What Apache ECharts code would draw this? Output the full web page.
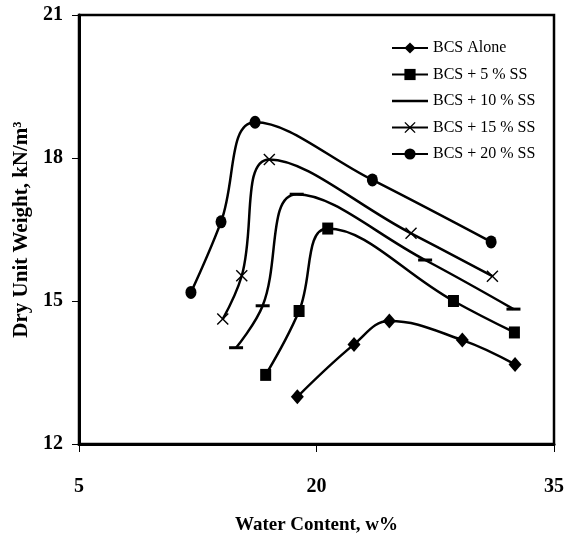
<!DOCTYPE html>
<html>
<head>
<meta charset="utf-8">
<script src="https://cdn.jsdelivr.net/npm/echarts@6/dist/echarts.min.js"></script>
<style>
  html, body { margin: 0; padding: 0; background: #fff; }
  #chart { width: 565px; height: 538px; }
</style>
</head>
<body>
<div id="chart"></div>
<script>
// valores (contenido de agua %, peso unitario seco kN/m3)
const nombres = ['BCS Alone', 'BCS + 5 % SS', 'BCS + 10 % SS', 'BCS + 15 % SS', 'BCS + 20 % SS']

const humedad0 = [18.79, 22.37, 24.6, 29.21, 32.54]
const peso0 = [12.99, 14.09, 14.58, 14.18, 13.67]

const humedad5 = [16.79, 18.9, 20.71, 28.65, 32.5]
const peso5 = [13.45, 14.79, 16.52, 15.0, 14.34]

const humedad10 = [14.92, 16.6, 18.75, 26.86, 32.44]
const peso10 = [14.02, 14.9, 17.24, 15.86, 14.83]

const humedad15 = [14.08, 15.28, 17.02, 25.97, 31.11]
const peso15 = [14.62, 15.53, 17.97, 16.42, 15.52]

const humedad20 = [12.07, 13.97, 16.12, 23.53, 31.03]
const peso20 = [15.18, 16.66, 18.75, 17.54, 16.24]

const ticksX = [5, 20, 35]
const ticksY = [12, 15, 18, 21]

const fuente = "'Times New Roman', 'Liberation Serif', serif"

const simbolos = [
  { symbol: 'diamond', size: [13, 15] },
  { symbol: 'rect', size: [11, 12] },
  { symbol: 'rect', size: [14, 3] },
  { symbol: 'path://M0,1L1,0L6,5L11,0L12,1L7,6L12,11L11,12L6,7L1,12L0,11L5,6Z', size: [12, 12] },
  { symbol: 'path://M0,6A6,6 0 1,1 12,6A6,6 0 1,1 0,6Z', size: [11, 13] },
]

const xs = [humedad0, humedad5, humedad10, humedad15, humedad20]
const ys = [peso0, peso5, peso10, peso15, peso20]

function serie(i) {
  return {
    name: nombres[i],
    type: 'line',
    smooth: 0.4,
    data: xs[i].map((x, k) => [x, ys[i][k]]),
    symbol: simbolos[i].symbol,
    symbolSize: simbolos[i].size,
    showAllSymbol: true,
    lineStyle: { color: '#000', width: 2.5 },
    itemStyle: { color: '#000' },
    emphasis: { disabled: true },
    animation: false,
  }
}

// en la leyenda la raya del 10 % queda confundida con la línea
const leyenda = nombres.map((n, i) =>
  i === 2 ? { name: n, icon: 'path://M0,0M36,14M0,5.7H36V8.3H0Z' } : { name: n })

const chart = echarts.init(document.getElementById('chart'))

chart.setOption({
  backgroundColor: '#fff',
  animation: false,
  grid: {
    left: 79, right: 11, top: 15, bottom: 94,
    outerBoundsMode: 'none',
    show: true, borderColor: '#000', borderWidth: 2.5,
  },
  legend: {
    orient: 'vertical',
    left: 391, top: 40, padding: 0,
    itemWidth: 36, itemHeight: 14, itemGap: 10.5,
    textStyle: { fontFamily: fuente, fontSize: 16, color: '#000', lineHeight: 16 },
    data: leyenda,
  },
  xAxis: {
    type: 'value',
    min: ticksX[0], max: ticksX[ticksX.length - 1], interval: 15,
    name: 'Water Content, w%',
    nameLocation: 'middle', nameGap: 72,
    nameTextStyle: { fontFamily: fuente, fontSize: 19, fontWeight: 'bold', color: '#000' },
    axisLine: { lineStyle: { color: '#000', width: 3 } },
    axisTick: { inside: false, length: 8, lineStyle: { color: '#000', width: 1 } },
    axisLabel: { margin: 33, fontFamily: fuente, fontSize: 20, fontWeight: 'bold', color: '#000' },
    splitLine: { show: false },
  },
  yAxis: {
    type: 'value',
    min: ticksY[0], max: ticksY[ticksY.length - 1], interval: 3,
    name: 'Dry Unit Weight, kN/m³',
    nameLocation: 'middle', nameGap: 37, nameRotate: 90,
    nameTextStyle: { fontFamily: fuente, fontSize: 21, fontWeight: 'bold', color: '#000' },
    axisLine: { lineStyle: { color: '#000', width: 3 } },
    axisTick: { inside: false, length: 7, lineStyle: { color: '#000', width: 1 } },
    axisLabel: { margin: 16, fontFamily: fuente, fontSize: 20, fontWeight: 'bold', color: '#000' },
    splitLine: { show: false },
  },
  series: [0, 1, 2, 3, 4].map(serie),
})
</script>
</body>
</html>
